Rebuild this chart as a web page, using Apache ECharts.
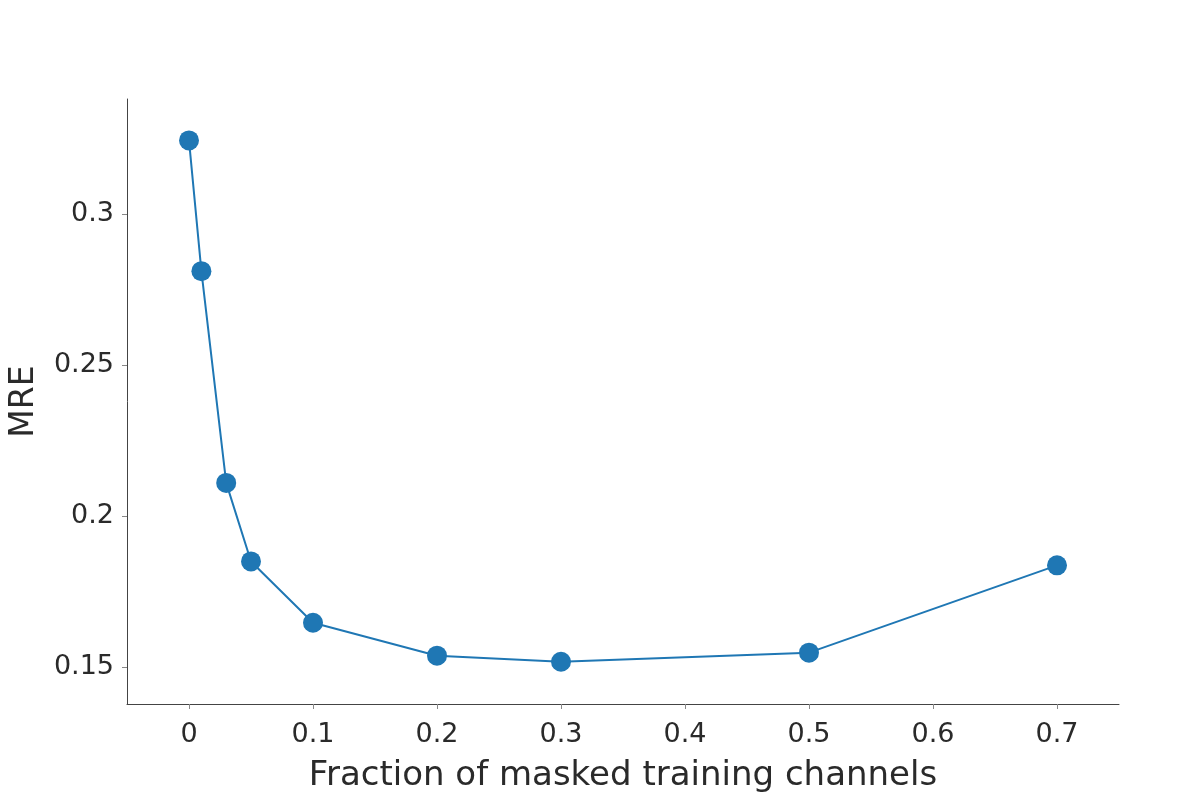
<!DOCTYPE html>
<html>
<head>
<meta charset="utf-8">
<script src="https://cdn.jsdelivr.net/npm/echarts@6/dist/echarts.min.js"></script>
<style>html,body{margin:0;padding:0;background:#fff}#c{width:1200px;height:800px}</style>
</head>
<body>
<div id="c"></div>
<script>
const fractions = [0, 0.01, 0.03, 0.05, 0.1, 0.2, 0.3, 0.5, 0.7];
const mre = [0.3243, 0.281, 0.2109, 0.1849, 0.1646, 0.1537, 0.1517, 0.1547, 0.1836];
const xTicks = [0, 0.1, 0.2, 0.3, 0.4, 0.5, 0.6, 0.7];
const yTicks = [0.15, 0.2, 0.25, 0.3];

const chart = echarts.init(document.getElementById('c'), null, {renderer: 'canvas'});
const font = 'DejaVu Sans';
const txt = '#2a2a2a';
chart.setOption({
  animation: false,
  grid: {left: 125, right: 81, top: 99, bottom: 96, containLabel: false},
  xAxis: {
    type: 'value', min: -0.05, max: 0.75, interval: 0.05,
    name: 'Fraction of masked training channels', nameLocation: 'middle', nameGap: 55,
    nameTextStyle: {fontFamily: font, fontSize: 34, color: txt},
    axisLine: {show: true, onZero: false, lineStyle: {color: '#444', width: 1}},
    axisTick: {show: true, length: 5, lineStyle: {color: '#888'},
      customValues: xTicks},
    axisLabel: {fontFamily: font, fontSize: 27, color: txt, margin: 17,
      customValues: xTicks,
      formatter: v => String(+v.toFixed(2))},
    splitLine: {show: false}
  },
  yAxis: {
    type: 'value', min: 0.1377, max: 0.338,
    name: 'MRE', nameLocation: 'middle', nameGap: 86,
    nameTextStyle: {fontFamily: font, fontSize: 33, color: txt},
    axisLine: {show: true, onZero: false, lineStyle: {color: '#444', width: 1}},
    axisTick: {show: true, length: 5, lineStyle: {color: '#888'}, customValues: yTicks},
    axisLabel: {fontFamily: font, fontSize: 27, color: txt, margin: 13,
      customValues: yTicks,
      formatter: v => String(+v.toFixed(2))},
    splitLine: {show: false}
  },
  series: [{
    type: 'line',
    data: fractions.map((f, i) => [f, mre[i]]),
    symbol: 'circle', symbolSize: 20,
    itemStyle: {color: '#1f77b4'},
    lineStyle: {color: '#1f77b4', width: 2}
  }]
});
</script>
</body>
</html>
